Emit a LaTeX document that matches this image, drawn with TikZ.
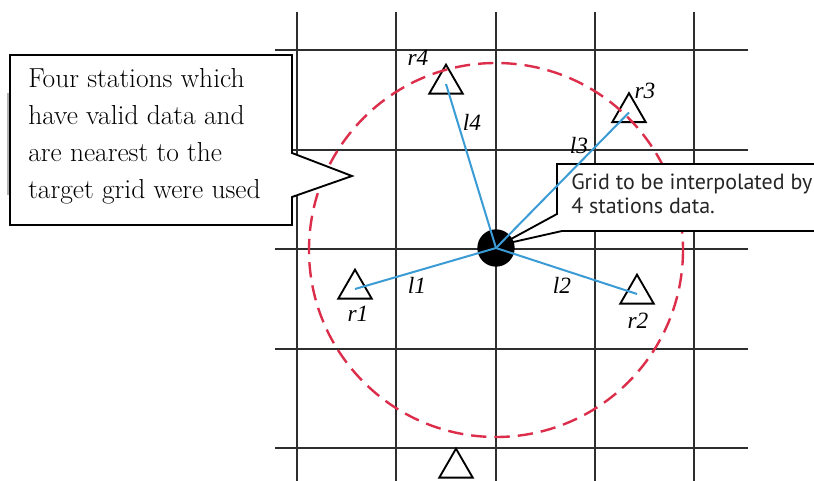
\documentclass[tikz,border=0pt]{standalone}
\usepackage{fontspec}
\usetikzlibrary{shapes.geometric}
\newfontfamily\labelfont{Liberation Serif}
\newfontfamily\calloutfont{PT Sans}
\definecolor{gridc}{HTML}{2E2E2E}
\definecolor{bluec}{HTML}{3A9BD5}
\definecolor{redc}{HTML}{DC2D4A}
\tikzset{
  gridline/.style={draw=gridc, line width=1.6pt},
  station/.style={regular polygon, regular polygon sides=3, draw=black, line width=1.4pt,
    minimum size=29pt, inner sep=0pt, outer sep=0pt},
  dist/.style={draw=bluec, line width=1.5pt},
  lab/.style={font=\labelfont\itshape\fontsize{17.5}{17.5}\selectfont, inner sep=0pt},
  callout/.style={draw=black, fill=white, line width=1.4pt, line join=miter},
  ltext/.style={anchor=base west, inner sep=0pt, font=\fontsize{20.6}{24}\selectfont},
  rtext/.style={anchor=base west, inner sep=0pt, font=\calloutfont\fontsize{16.5}{20}\selectfont, text=black!85},
}
\begin{document}
\begin{tikzpicture}[x=0.75pt,y=-0.75pt]
\clip (0,0) rectangle (814,481);
\fill[white] (0,0) rectangle (814,481);
% grid
\foreach \x in {297,396,496,595,694} \draw[gridline] (\x,12) -- (\x,481);
\foreach \y in {50,150,249,349,448} \draw[gridline] (275,\y) -- (748,\y);
% stations
\node[station] (r1) at (355,289) {};
\node[station] (r2) at (637,294) {};
\node[station] (r3) at (629,112.5) {};
\node[station] (r4) at (446,84) {};
\node[station] (r5) at (456,468) {};
% search circle
\draw[draw=redc, line width=1.8pt, dash pattern=on 11.5pt off 6pt] (496,250) circle[radius=187];
% left callout
\draw[gray!60, line width=1.2pt] (8,93) -- (8,195);
\coordinate (tipL) at (352,176);
\draw[callout] (10,55) -- (292,55) -- (292,153) -- (tipL) -- (292,197) -- (292,225) -- (10,225) -- cycle;
\node[ltext] (t1) at (28,88) {Four stations which};
\node[ltext] (t2) at (28,125) {have valid data and};
\node[ltext] (t3) at (28,162) {are nearest to the};
\node[ltext] (t4) at (28,199) {target grid were used};
% right callout
\coordinate (tipR) at (500,245);
\draw[callout] (557,164) -- (830,164) -- (830,231) -- (562,231) -- (tipR) -- (557,214) -- cycle;
\node[rtext] (g1) at (571,190) {Grid to be interpolated by};
\node[rtext] (g2) at (571,214) {4 stations data.};
% target grid point
\node[circle, fill=black, minimum size=28pt, inner sep=0pt] (grid) at (496,248) {};
% distances
\draw[dist] (grid.center) -- (r1.center);
\draw[dist] (grid.center) -- (r2.center);
\draw[dist] (grid.center) -- (r3.center);
\draw[dist] (grid.center) -- (r4.center);
% labels
\node[lab] (lr1) at (358,314) {r1};
\node[lab] (lr2) at (638,321) {r2};
\node[lab] (lr3) at (645,91) {r3};
\node[lab] (lr4) at (418,58) {r4};
\node[lab] (ll1) at (417,285) {l1};
\node[lab] (ll2) at (562,285) {l2};
\node[lab] (ll3) at (579,146) {l3};
\node[lab] (ll4) at (472,122) {l4};
\end{tikzpicture}
\end{document}
